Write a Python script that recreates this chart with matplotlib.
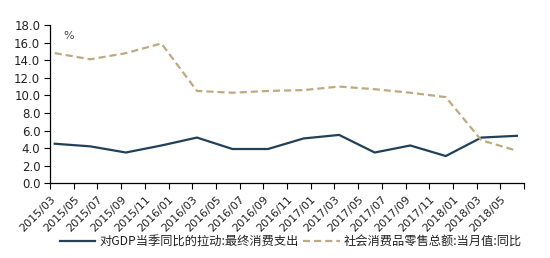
import matplotlib
matplotlib.use("Agg")
import matplotlib.pyplot as plt
import numpy as np

plt.rcParams['font.family'] = ['Noto Sans CJK SC', 'DejaVu Sans']

tick_labels = ["2015/03", "2015/05", "2015/07", "2015/09", "2015/11",
               "2016/01", "2016/03", "2016/05", "2016/07", "2016/09", "2016/11",
               "2017/01", "2017/03", "2017/05", "2017/07", "2017/09", "2017/11",
               "2018/01", "2018/03", "2018/05"]
# quarterly observations 2015Q1 .. 2018Q2
quarters = ["2015Q1", "2015Q2", "2015Q3", "2015Q4", "2016Q1", "2016Q2", "2016Q3",
            "2016Q4", "2017Q1", "2017Q2", "2017Q3", "2017Q4", "2018Q1", "2018Q2"]
gdp_consumption = [4.5, 4.2, 3.5, 4.3, 5.2, 3.9, 3.9, 5.1, 5.5, 3.5, 4.3, 3.1, 5.2, 5.4]
retail_sales = [14.8, 14.1, 14.8, 15.9, 10.5, 10.3, 10.5, 10.6, 11.0, 10.7, 10.3, 9.8, 4.9, 3.7]

label_gdp = "对GDP当季同比的拉动:最终消费支出"
label_retail = "社会消费品零售总额:当月值:同比"

fig = plt.figure(figsize=(5.5, 2.58), dpi=100)
ax = fig.add_axes([50/550, 1 - 183.3/258, 474/550, 158.3/258])

# x in months since 2015/03; quarterly points placed 3 months apart
x = np.arange(len(quarters)) * 3 + 0.4
ax.plot(x, gdp_consumption, color='#21405a', lw=1.6, solid_joinstyle='miter')
ax.plot(x, retail_sales, color='#bfa980', lw=1.6, dashes=(3.2, 1.8))

ax.set_xlim(0, 40)
ax.set_ylim(0, 18)
ax.set_yticks(np.arange(0, 18.1, 2.0))
ax.set_yticklabels([f"{v:.1f}" for v in np.arange(0, 18.1, 2.0)], fontsize=8.5,
                   family=['DejaVu Sans'], color='#222222')
ax.set_xticks(np.arange(0, 41, 2))
ax.set_xticklabels(tick_labels + [""], rotation=45, ha='right', va='top',
                   rotation_mode='anchor', fontsize=8, family=['DejaVu Sans'],
                   color='#222222')
ax.tick_params(axis='both', direction='out', length=4, width=0.8, color='black', pad=3)
ax.tick_params(axis='x', pad=3.5)
for s in ['top', 'right']:
    ax.spines[s].set_visible(False)
for s in ['left', 'bottom']:
    ax.spines[s].set_linewidth(0.9)

ax.text(0.028, 0.93, "%", transform=ax.transAxes, fontsize=8, color='#444444',
        ha='left', va='center', family=['DejaVu Sans'])

# legend drawn in figure coordinates
ly = 1 - 241/258
fig.add_artist(plt.Line2D([60/550, 95/550], [ly, ly], color='#21405a', lw=1.6))
fig.text(99/550, ly, label_gdp, fontsize=8.8, va='center', ha='left', color='#222222')
fig.add_artist(plt.Line2D([303/550, 340/550], [ly, ly], color='#bfa980', lw=1.6,
                          dashes=(3.2, 1.8)))
fig.text(344/550, ly, label_retail, fontsize=8.8, va='center', ha='left', color='#222222')

fig.savefig("out.png", dpi=100)
